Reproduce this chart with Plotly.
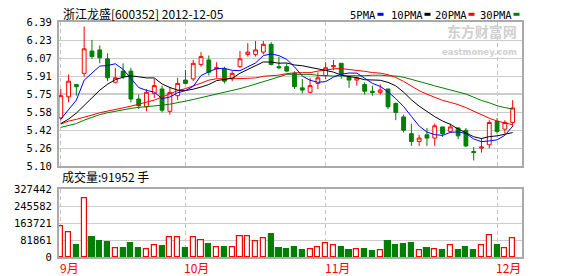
import plotly.graph_objects as go

# ---------------- data ----------------
opens = [5.53, 5.72, 5.83, 5.93, 6.13, 6.14, 6.06, 5.85, 5.95, 5.95,
         5.70, 5.63, 5.75, 5.79, 5.59, 5.73, 5.87, 5.88, 6.01, 6.05,
         5.97, 5.97, 5.88, 5.99, 6.10, 6.10, 6.12, 6.19, 5.99, 5.99,
         5.93, 5.80, 5.76, 5.84, 5.91, 5.99, 6.02, 5.90, 5.87, 5.83,
         5.77, 5.76, 5.79, 5.66, 5.54, 5.39, 5.32, 5.38, 5.35, 5.45,
         5.41, 5.44, 5.42, 5.23, 5.26, 5.29, 5.50, 5.43, 5.49]
highs = [5.79, 5.92, 5.83, 6.35, 6.23, 6.18, 6.11, 5.98, 6.02, 5.98,
         5.74, 5.79, 5.88, 5.82, 5.81, 5.89, 5.96, 6.05, 6.12, 6.09,
         6.03, 5.99, 5.95, 6.13, 6.20, 6.22, 6.22, 6.21, 6.08, 6.02,
         5.95, 5.88, 5.89, 5.94, 6.03, 6.05, 6.02, 5.91, 5.90, 5.85,
         5.82, 5.83, 5.79, 5.67, 5.56, 5.48, 5.38, 5.44, 5.48, 5.45,
         5.48, 5.45, 5.44, 5.27, 5.35, 5.51, 5.53, 5.51, 5.69]
lows = [5.51, 5.67, 5.73, 5.90, 6.06, 6.02, 5.86, 5.84, 5.88, 5.67,
        5.61, 5.59, 5.71, 5.58, 5.56, 5.69, 5.83, 5.86, 5.99, 5.91,
        5.89, 5.84, 5.86, 5.98, 6.08, 6.08, 6.10, 6.00, 5.97, 5.94,
        5.79, 5.75, 5.75, 5.79, 5.88, 5.96, 5.88, 5.80, 5.82, 5.74,
        5.73, 5.74, 5.61, 5.51, 5.40, 5.28, 5.28, 5.28, 5.28, 5.36,
        5.40, 5.34, 5.27, 5.15, 5.22, 5.26, 5.39, 5.39, 5.45]
closes = [5.73, 5.86, 5.81, 6.15, 6.08, 6.07, 5.89, 5.89, 5.90, 5.70,
          5.64, 5.76, 5.82, 5.60, 5.76, 5.84, 5.84, 6.02, 6.08, 5.94,
          5.98, 5.86, 5.93, 6.06, 6.12, 6.14, 6.19, 6.01, 5.98, 5.95,
          5.81, 5.78, 5.82, 5.89, 5.98, 6.00, 5.92, 5.87, 5.89, 5.77,
          5.76, 5.78, 5.63, 5.58, 5.42, 5.32, 5.35, 5.35, 5.46, 5.39,
          5.45, 5.37, 5.28, 5.22, 5.27, 5.49, 5.41, 5.49, 5.62]
volumes = [148630, 118920, 54310, 283470, 96210, 77480, 72150, 43260, 43580, 67340,
           43120, 37210, 56480, 50130, 95260, 95470, 43350, 95120, 80340, 63270,
           48150, 48320, 48060, 100240, 100410, 77260, 91380, 111250, 43180, 39060,
           48240, 34150, 39270, 48360, 66120, 56380, 48170, 34260, 39180, 39350,
           29240, 32170, 77350, 58260, 63140, 67280, 32310, 43270, 39140, 34320,
           56210, 34180, 48270, 34360, 56340, 104280, 56150, 43260, 91952]
ma5 = [5.520, 5.601, 5.690, 5.869, 5.929, 5.995, 6.000, 6.016, 5.966, 5.889,
       5.803, 5.777, 5.762, 5.703, 5.718, 5.757, 5.775, 5.814, 5.910, 5.944,
       5.973, 5.975, 5.957, 5.954, 5.990, 6.023, 6.089, 6.104, 6.089, 6.055,
       5.988, 5.906, 5.868, 5.850, 5.856, 5.896, 5.922, 5.933, 5.932, 5.890,
       5.841, 5.813, 5.765, 5.703, 5.633, 5.545, 5.458, 5.404, 5.381, 5.374,
       5.401, 5.406, 5.391, 5.342, 5.318, 5.325, 5.334, 5.375, 5.456]
ma10 = [5.480, 5.520, 5.574, 5.645, 5.717, 5.779, 5.833, 5.873, 5.896, 5.908,
        5.899, 5.889, 5.889, 5.835, 5.803, 5.780, 5.776, 5.788, 5.807, 5.830,
        5.865, 5.875, 5.886, 5.931, 5.967, 5.998, 6.032, 6.031, 6.021, 6.023,
        6.005, 5.998, 5.986, 5.969, 5.956, 5.941, 5.914, 5.901, 5.891, 5.873,
        5.868, 5.868, 5.849, 5.818, 5.762, 5.693, 5.636, 5.585, 5.542, 5.503,
        5.473, 5.432, 5.397, 5.362, 5.346, 5.363, 5.370, 5.383, 5.399]
ma20 = [5.475, 5.502, 5.518, 5.535, 5.556, 5.577, 5.594, 5.610, 5.621, 5.636,
        5.654, 5.675, 5.690, 5.717, 5.748, 5.775, 5.793, 5.815, 5.842, 5.869,
        5.882, 5.881, 5.888, 5.883, 5.885, 5.889, 5.904, 5.910, 5.914, 5.927,
        5.935, 5.936, 5.936, 5.950, 5.961, 5.970, 5.973, 5.966, 5.956, 5.948,
        5.937, 5.932, 5.918, 5.893, 5.858, 5.817, 5.775, 5.743, 5.717, 5.688,
        5.670, 5.650, 5.623, 5.590, 5.554, 5.528, 5.503, 5.484, 5.470]
ma30 = [5.446, 5.462, 5.480, 5.511, 5.538, 5.560, 5.577, 5.592, 5.605, 5.616,
        5.625, 5.630, 5.636, 5.645, 5.654, 5.665, 5.681, 5.696, 5.712, 5.728,
        5.744, 5.757, 5.773, 5.793, 5.813, 5.833, 5.854, 5.876, 5.898, 5.921,
        5.923, 5.921, 5.921, 5.912, 5.908, 5.906, 5.907, 5.906, 5.906, 5.909,
        5.913, 5.914, 5.907, 5.906, 5.895, 5.878, 5.861, 5.838, 5.818, 5.800,
        5.782, 5.766, 5.745, 5.716, 5.687, 5.666, 5.640, 5.623, 5.610]

price_ticks = [5.10, 5.26125, 5.4225, 5.58375, 5.745, 5.90625, 6.0675, 6.22875, 6.39]
price_labels = ["5.10", "5.26", "5.42", "5.58", "5.75", "5.91", "6.07", "6.23", "6.39"]
vol_ticks = [0, 81861, 163721, 245582, 327442]
vol_labels = ["0", "81861", "163721", "245582", "327442"]
month_labels = ["9月", "10月", "11月", "12月"]
month_index = [0, 16, 34, 56]
ma_names = ["5PMA", "10PMA", "20PMA", "30PMA"]
ma_colors = ["#0000ff", "#000000", "#ff0000", "#008000"]

title_text = "浙江龙盛[600352] 2012-12-05"
vol_text = "成交量:91952 手"

# ---------------- layout geometry ----------------
W, H = 578, 276
ML, MR, MT, MB = 59, 56, 22, 19
PW, PH = W - ML - MR, H - MT - MB


def px_x(x):
    return (x - ML) / PW


def px_y(y):
    return (H - MB - y) / PH


idx = list(range(len(closes)))
UP, DOWN = "#ff0000", "#008000"

fig = go.Figure()
fig.add_trace(go.Candlestick(
    x=idx, open=opens, high=highs, low=lows, close=closes,
    increasing=dict(line=dict(color=UP, width=1), fillcolor="#ffffff"),
    decreasing=dict(line=dict(color=DOWN, width=1), fillcolor=DOWN),
    whiskerwidth=0, showlegend=False, hoverinfo="skip", xaxis="x", yaxis="y"))

for vals, col in zip([ma30, ma20, ma10, ma5], ma_colors[::-1]):
    fig.add_trace(go.Scatter(x=idx, y=vals, mode="lines",
                             line=dict(color=col, width=1),
                             showlegend=False, hoverinfo="skip",
                             xaxis="x", yaxis="y"))

is_up = [c >= o for o, c in zip(opens, closes)]
fig.add_trace(go.Bar(
    x=idx, y=volumes, width=0.66,
    marker=dict(color=["#ffffff" if u else DOWN for u in is_up],
                line=dict(color=[UP if u else DOWN for u in is_up], width=1.2)),
    showlegend=False, hoverinfo="skip", xaxis="x2", yaxis="y2"))

frame = dict(showline=True, mirror=True, linecolor="#aaaaaa", linewidth=2,
             zeroline=False, ticks="")
tickfont = dict(family="DejaVu Sans Mono", size=10.5, color="#000000")
xcommon = dict(range=[-0.23, 59.2], tickvals=month_index, showticklabels=False,
               showgrid=True, gridcolor="#c4c4c4", gridwidth=1, griddash="4px,3px",
               **frame)

price_dom = [px_y(166), 1]
vol_dom = [0, px_y(189.3)]

fig.update_layout(
    width=W, height=H, autosize=False,
    margin=dict(l=ML, r=MR, t=MT, b=MB, pad=0),
    paper_bgcolor="#ffffff", plot_bgcolor="#ffffff",
    showlegend=False, bargap=0,
    xaxis=dict(domain=[0, 1], anchor="y", rangeslider=dict(visible=False), **xcommon),
    xaxis2=dict(domain=[0, 1], anchor="y2", matches="x", **xcommon),
    yaxis=dict(domain=price_dom, range=[5.10, 6.39], tickvals=price_ticks,
               ticktext=price_labels, showgrid=True, gridcolor="#cccccc",
               gridwidth=1, tickfont=tickfont, ticklabelstandoff=3, **frame),
    yaxis2=dict(domain=vol_dom, range=[0, 327442], tickvals=vol_ticks,
                ticktext=vol_labels, showgrid=True, gridcolor="#cccccc",
                gridwidth=1, tickfont=tickfont, ticklabelstandoff=3, **frame),
)

# darker middle line of the price panel
fig.add_shape(type="line", xref="paper", x0=0, x1=1, yref="y",
              y0=price_ticks[4], y1=price_ticks[4],
              line=dict(color="#9a9a9a", width=1), layer="below")

ann = []
ann.append(dict(text=title_text, xref="paper", yref="paper", x=px_x(61), y=px_y(13),
                xanchor="left", yanchor="middle", showarrow=False,
                font=dict(family="Noto Sans CJK SC", size=12, color="#000000")))
ann.append(dict(text=vol_text, xref="paper", yref="paper", x=px_x(60), y=px_y(176.5),
                xanchor="left", yanchor="middle", showarrow=False,
                font=dict(family="Noto Sans CJK SC", size=12, color="#000000")))
# legend of moving averages
leg_right = [376, 423, 467, 512]
for name, col, xr in zip(ma_names, ma_colors, leg_right):
    ann.append(dict(text=name, xref="paper", yref="paper", x=px_x(xr + 1), y=px_y(14.5),
                    xanchor="right", yanchor="middle", showarrow=False, borderpad=0,
                    font=dict(family="DejaVu Sans Mono", size=10.5, color="#000000")))
    fig.add_shape(type="rect", xref="paper", yref="paper",
                  x0=px_x(xr + 1.5), x1=px_x(xr + 7.5), y0=px_y(15.8), y1=px_y(12.8),
                  fillcolor=col, line=dict(width=0))
# watermark (one text block, two lines)
ann.append(dict(text="<b>东方财富网</b><br><span style='font-size:8.5px;font-family:DejaVu Sans'>"
                     "<b>eastmoney.com</b></span>",
                xref="paper", yref="paper", x=px_x(518), y=px_y(38.5),
                xanchor="right", yanchor="middle", align="right", showarrow=False,
                borderpad=0,
                font=dict(family="Noto Sans CJK SC", size=14, color="#d0d0d0")))
# month labels
for lab, mi in zip(month_labels, month_index):
    ann.append(dict(text=lab, xref="x2", yref="paper", x=mi, y=px_y(267.5),
                    xanchor="left", yanchor="middle", xshift=-3, showarrow=False,
                    font=dict(family="Noto Sans CJK SC", size=12, color="#ff0000")))
fig.update_layout(annotations=ann)

fig.write_html("out.html", include_plotlyjs=True, config={"displayModeBar": False})
